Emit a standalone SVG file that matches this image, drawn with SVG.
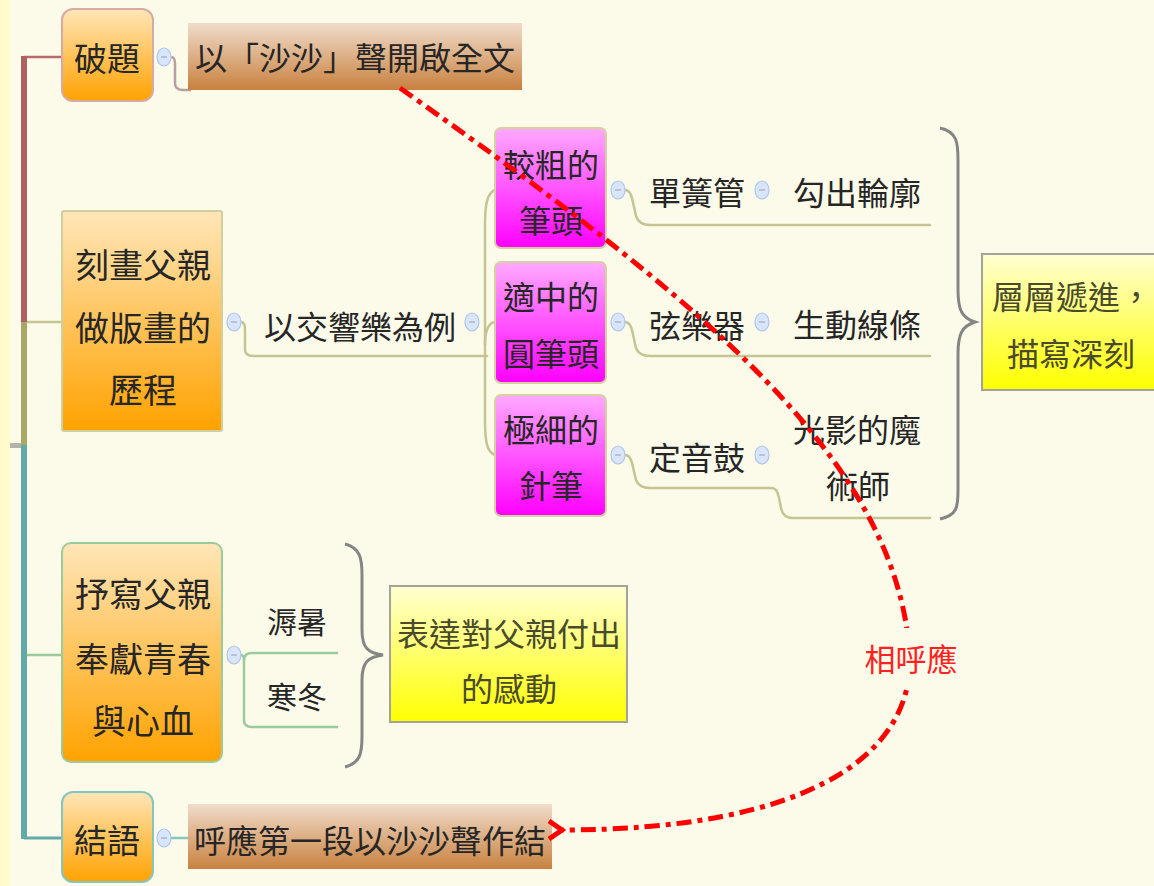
<svg xmlns="http://www.w3.org/2000/svg" width="1154" height="886" viewBox="0 0 1154 886">
<defs>
<linearGradient id="gOrange" x1="0" y1="0" x2="0" y2="1"><stop offset="0" stop-color="#FFE6B8"/><stop offset="1" stop-color="#FFA200"/></linearGradient>
<linearGradient id="gBrown" x1="0" y1="0" x2="0" y2="1"><stop offset="0" stop-color="#F0DCCB"/><stop offset="1" stop-color="#C8813F"/></linearGradient>
<linearGradient id="gPink" x1="0" y1="0" x2="0" y2="1"><stop offset="0" stop-color="#FFAAFF"/><stop offset="1" stop-color="#FF00FF"/></linearGradient>
<linearGradient id="gYellow" x1="0" y1="0" x2="0" y2="1"><stop offset="0" stop-color="#FFFFD2"/><stop offset="1" stop-color="#FFFF00"/></linearGradient>
<marker id="arrow" viewBox="0 0 24 24" refX="4" refY="12" markerWidth="24" markerHeight="24" markerUnits="userSpaceOnUse" orient="auto-start-reverse">
<path d="M17,3 L4,12 L17,21" fill="none" stroke="#FF0000" stroke-width="5" stroke-linejoin="miter"/>
</marker>
</defs>
<style>
text{font-family:"Noto Sans CJK TC","Noto Sans CJK SC",sans-serif;fill:#262626;text-anchor:middle;dominant-baseline:central}
.t32{font-size:32px}
.t34{font-size:34px}
.t30{font-size:30px}
.ty{fill:#4a4a2c}
.btn{fill:#D9E5FA;stroke:#AFC6EE;stroke-width:1.2}
.btnm{stroke:#A9B4C8;stroke-width:1.5}
.c{fill:none;stroke-width:2.5;stroke-linecap:round;stroke-linejoin:round}
.red{stroke:#B9A0A0}
.ol{stroke:#C5C493}
.gr{stroke:#9ACB9C}
.tl{stroke:#86C4BE}
.brace{fill:none;stroke:#858585;stroke-width:3}
</style>
<rect x="0" y="0" width="1154" height="886" fill="#FCFBEA"/>
<rect x="0" y="0" width="10" height="886" fill="#FFFBCB"/>
<rect x="10" y="443" width="11" height="5" fill="#B4B4AA"/>

<g id="connectors">
<line x1="24" y1="57" x2="62" y2="57" stroke="#B86A6A" stroke-width="2.5"/>
<rect x="21" y="56" width="6" height="267" fill="#B06262"/>
<rect x="21" y="322" width="6" height="124" fill="#A8A868"/>
<rect x="21" y="445" width="6" height="394" fill="#62AAA8"/>
<line x1="27" y1="322" x2="62" y2="322" stroke="#C5C493" stroke-width="2.5"/>
<line x1="27" y1="655" x2="62" y2="655" stroke="#9ACB9C" stroke-width="2.5"/>
<line x1="24" y1="838" x2="62" y2="838" stroke="#62AAA8" stroke-width="3"/>
<path class="c red" d="M171,57 Q175,57 175,64 L175,83 Q175,90 183,90 L190,90"/>
<path class="c ol" d="M241,322 Q245,322 245,330 L245,349 Q245,356 253,356 L487,356"/>
<path class="c ol" d="M495,190 C487,193 485,205 485,225 L485,420 C485,442 487,452 495,455"/>
<path class="c ol" d="M485,345 C485,330 488,323 495,322"/>
<path class="c ol" d="M625,190 Q630,190 632,198 L636,216 Q639,225 650,225 L930,225"/>
<path class="c ol" d="M625,322 Q630,322 632,330 L636,348 Q639,356 650,356 L930,356"/>
<path class="c ol" d="M625,455 Q630,455 632,463 L636,480 Q639,488 650,488 L772,488 Q777,488 779,498 L781,508 Q783,518 793,518 L930,518"/>
<path class="c gr" d="M241,655 Q244,655 244,660 L244,720 Q244,727 252,727 L337,727"/>
<path class="c gr" d="M244,660 Q244,653 252,653 L337,653"/>
<line x1="171" y1="838" x2="188" y2="838" stroke="#86C4BE" stroke-width="2.5"/>
<path class="brace" d="M940,128 C957,132 958,142 958,160 L958,290 C958,310 962,318 975,322 C962,326 958,334 958,354 L958,490 C958,508 957,515 940,519"/>
<path class="brace" d="M345,544 C360,548 362,558 362,575 L362,630 C362,648 368,653 383,655 C368,657 362,662 362,680 L362,736 C362,754 360,763 345,767"/>
</g>

<g id="node-poti">
<rect x="62" y="9" width="91" height="92" rx="11" fill="url(#gOrange)" stroke="#D9A9A6" stroke-width="2"/>
<text class="t32" x="107" y="57" style="font-size:33px">破題</text>
<ellipse class="btn" cx="164" cy="57" rx="7" ry="9"/><line class="btnm" x1="161" y1="57" x2="167" y2="57"/>
</g>
<g id="node-shasha">
<rect x="188" y="23" width="334" height="67" fill="url(#gBrown)"/>
<text class="t32" x="355" y="56">以「沙沙」聲開啟全文</text>
</g>
<g id="node-kehua">
<rect x="62" y="211" width="160" height="220" rx="2" fill="url(#gOrange)" stroke="#CFCF9F" stroke-width="2"/>
<text class="t34" x="143" y="263">刻畫父親</text>
<text class="t34" x="143" y="326">做版畫的</text>
<text class="t34" x="143" y="388">歷程</text>
<ellipse class="btn" cx="234" cy="322" rx="7" ry="9"/><line class="btnm" x1="231" y1="322" x2="237" y2="322"/>
</g>
<g id="node-jiaoxiang">
<text class="t32" x="360" y="325">以交響樂為例</text>
<ellipse class="btn" cx="472" cy="322" rx="7" ry="9"/><line class="btnm" x1="469" y1="322" x2="475" y2="322"/>
</g>
<g id="node-cu">
<rect x="495" y="128" width="111" height="120" rx="6" fill="url(#gPink)" stroke="#D4D0A0" stroke-width="2"/>
<text class="t32" x="551" y="163">較粗的</text>
<text class="t32" x="551" y="219">筆頭</text>
<ellipse class="btn" cx="618" cy="190" rx="7" ry="9"/><line class="btnm" x1="615" y1="190" x2="621" y2="190"/>
</g>
<g id="node-zhong">
<rect x="495" y="262" width="111" height="121" rx="6" fill="url(#gPink)" stroke="#D4D0A0" stroke-width="2"/>
<text class="t32" x="551" y="295">適中的</text>
<text class="t32" x="551" y="352">圓筆頭</text>
<ellipse class="btn" cx="618" cy="322" rx="7" ry="9"/><line class="btnm" x1="615" y1="322" x2="621" y2="322"/>
</g>
<g id="node-xi">
<rect x="495" y="395" width="111" height="121" rx="6" fill="url(#gPink)" stroke="#D4D0A0" stroke-width="2"/>
<text class="t32" x="551" y="428">極細的</text>
<text class="t32" x="551" y="484">針筆</text>
<ellipse class="btn" cx="618" cy="455" rx="7" ry="9"/><line class="btnm" x1="615" y1="455" x2="621" y2="455"/>
</g>
<g id="node-danhuang">
<text class="t32" x="697" y="191">單簧管</text>
<ellipse class="btn" cx="762" cy="190" rx="7" ry="9"/><line class="btnm" x1="759" y1="190" x2="765" y2="190"/>
</g>
<g id="node-xianyue">
<text class="t32" x="697" y="324">弦樂器</text>
<ellipse class="btn" cx="762" cy="322" rx="7" ry="9"/><line class="btnm" x1="759" y1="322" x2="765" y2="322"/>
</g>
<g id="node-dingyin">
<text class="t32" x="697" y="456">定音鼓</text>
<ellipse class="btn" cx="762" cy="455" rx="7" ry="9"/><line class="btnm" x1="759" y1="455" x2="765" y2="455"/>
</g>
<g id="node-gouchu"><text class="t32" x="857" y="191">勾出輪廓</text></g>
<g id="node-shengdong"><text class="t32" x="857" y="323">生動線條</text></g>
<g id="node-guangying">
<text class="t32" x="857" y="428">光影的魔</text>
<text class="t32" x="858" y="484">術師</text>
</g>
<g id="node-cengceng">
<rect x="982" y="254" width="180" height="136" fill="url(#gYellow)" stroke="#A3A39A" stroke-width="2"/>
<text class="t32 ty" x="1072" y="295">層層遞進，</text>
<text class="t32 ty" x="1071" y="352">描寫深刻</text>
</g>
<g id="node-shuxie">
<rect x="62" y="543" width="160" height="219" rx="9" fill="url(#gOrange)" stroke="#9ACB9C" stroke-width="2"/>
<text class="t34" x="143" y="592">抒寫父親</text>
<text class="t34" x="143" y="657">奉獻青春</text>
<text class="t34" x="143" y="719">與心血</text>
<ellipse class="btn" cx="234" cy="655" rx="7" ry="9"/><line class="btnm" x1="231" y1="655" x2="237" y2="655"/>
</g>
<g id="node-rushu"><text class="t30" x="297" y="620">溽暑</text></g>
<g id="node-handong"><text class="t30" x="297" y="695">寒冬</text></g>
<g id="node-biaoda">
<rect x="390" y="586" width="237" height="136" fill="url(#gYellow)" stroke="#A3A39A" stroke-width="2"/>
<text class="t32 ty" x="509" y="632">表達對父親付出</text>
<text class="t32 ty" x="509" y="687">的感動</text>
</g>
<g id="node-jieyu">
<rect x="62" y="792" width="91" height="90" rx="11" fill="url(#gOrange)" stroke="#86C4BE" stroke-width="2"/>
<text class="t32" x="107" y="839" style="font-size:33px">結語</text>
<ellipse class="btn" cx="164" cy="838" rx="7" ry="9"/><line class="btnm" x1="161" y1="838" x2="167" y2="838"/>
</g>
<g id="node-huying">
<rect x="188" y="804" width="364" height="65" fill="url(#gBrown)"/>
<text class="t32" x="370" y="839">呼應第一段以沙沙聲作結</text>
</g>
<g id="relationship">
<path d="M400,88 C700,300 900,460 910,660 C910,760 800,830 562,830" fill="none" stroke="#FF0000" stroke-width="5" stroke-dasharray="15 6 5 6" marker-end="url(#arrow)"/>
<rect x="866" y="628" width="92" height="58" fill="#FCFBEA"/>
<text x="911" y="657" style="font-size:31px;fill:#FF2222">相呼應</text>
</g>
</svg>
